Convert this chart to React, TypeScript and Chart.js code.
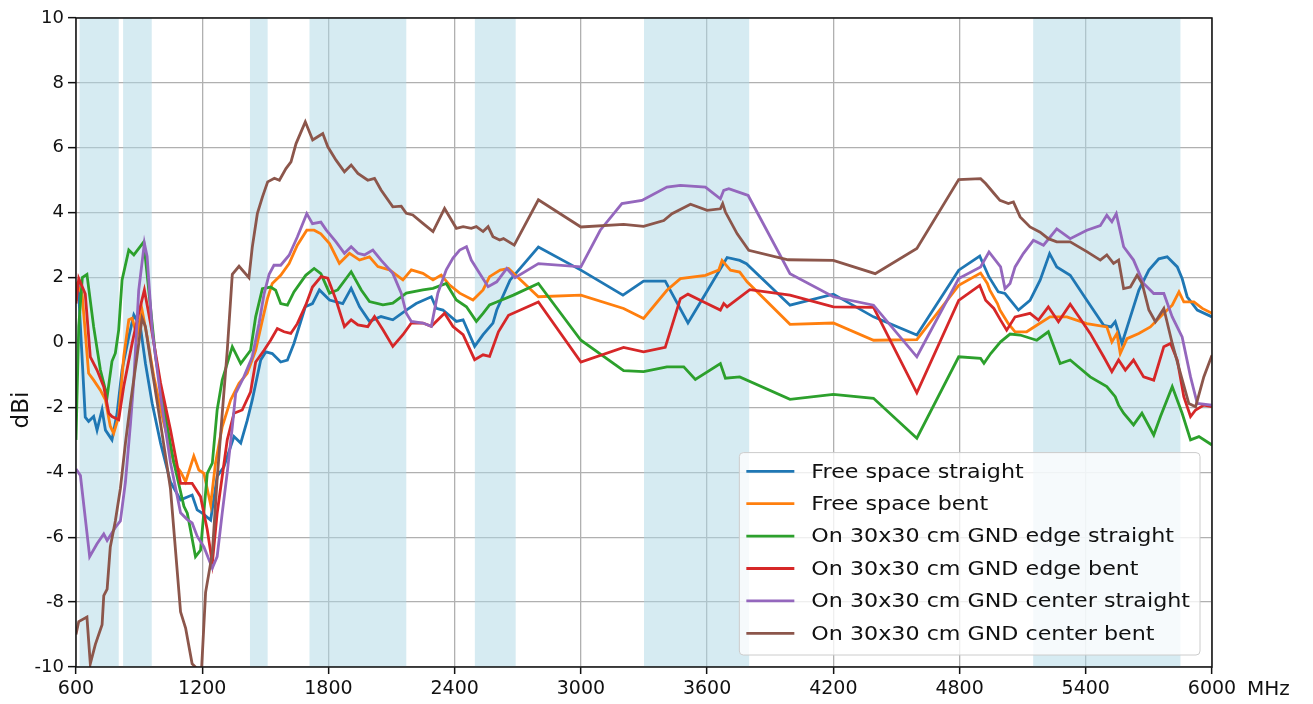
import React, { useEffect, useRef } from "react";
import { Chart, registerables } from "chart.js";
Chart.register(...registerables);

// ---------- DATA ----------
const seriesLabels = [
  "Free space straight",
  "Free space bent",
  "On 30x30 cm GND edge straight",
  "On 30x30 cm GND edge bent",
  "On 30x30 cm GND center straight",
  "On 30x30 cm GND center bent",
];
const seriesColors = ["#1f77b4", "#ff7f0e", "#2ca02c", "#d62728", "#9467bd", "#8c564b"];

const xTickValues = [600, 1200, 1800, 2400, 3000, 3600, 4200, 4800, 5400, 6000];
const yTickValues = [-10, -8, -6, -4, -2, 0, 2, 4, 6, 8, 10];

const bandStarts = [617, 824, 1427, 1710, 2496, 3300, 5150];
const bandEnds = [803, 960, 1511, 2170, 2690, 3800, 5850];

const fsStraightFreq = [600, 612, 644, 660, 684, 700, 724, 740, 771, 795, 819, 851, 875, 906, 930, 962, 1002, 1049, 1097, 1152, 1176, 1200, 1240, 1271, 1303, 1351, 1383, 1414, 1438, 1478, 1502, 1533, 1573, 1605, 1636, 1690, 1724, 1757, 1805, 1868, 1908, 1948, 1995, 2050, 2106, 2170, 2217, 2289, 2313, 2344, 2408, 2440, 2495, 2535, 2582, 2600, 2663, 2798, 3000, 3200, 3298, 3401, 3509, 3584, 3695, 3755, 3787, 3994, 4200, 4391, 4597, 4796, 4896, 4940, 4984, 5016, 5080, 5135, 5183, 5228, 5262, 5326, 5405, 5485, 5520, 5540, 5572, 5612, 5652, 5700, 5747, 5787, 5835, 5858, 5882, 5930, 6000];
const fsStraightGain = [1.3, 1.6, -2.3, -2.43, -2.28, -2.7, -2.07, -2.7, -3.0, -2.2, -0.84, 0.18, 0.85, 0.49, -0.64, -1.87, -3.1, -4.3, -4.85, -4.7, -5.16, -5.26, -5.47, -4.13, -3.83, -2.9, -3.1, -2.4, -1.77, -0.54, -0.29, -0.34, -0.6, -0.54, -0.03, 1.1, 1.2, 1.62, 1.31, 1.2, 1.67, 1.1, 0.65, 0.8, 0.7, 1.0, 1.2, 1.41, 1.05, 1.0, 0.65, 0.7, -0.12, 0.24, 0.6, 1.0, 1.92, 2.94, 2.23, 1.46, 1.89, 1.89, 0.6, 1.41, 2.62, 2.53, 2.43, 1.15, 1.49, 0.79, 0.23, 2.23, 2.66, 2.02, 1.56, 1.51, 1.0, 1.3, 1.92, 2.74, 2.33, 2.07, 1.3, 0.53, 0.48, 0.64, -0.03, 0.79, 1.61, 2.23, 2.58, 2.64, 2.33, 1.97, 1.41, 1.0, 0.79];

const fsBentFreq = [600, 605, 629, 660, 684, 716, 740, 763, 779, 803, 827, 851, 867, 890, 914, 938, 970, 1017, 1065, 1097, 1121, 1160, 1184, 1208, 1240, 1263, 1295, 1335, 1375, 1414, 1454, 1486, 1510, 1533, 1573, 1613, 1652, 1697, 1732, 1764, 1805, 1852, 1900, 1948, 1995, 2035, 2090, 2154, 2194, 2249, 2297, 2336, 2376, 2424, 2487, 2535, 2566, 2616, 2656, 2798, 3000, 3203, 3298, 3409, 3473, 3592, 3655, 3671, 3711, 3755, 3790, 3994, 4200, 4391, 4597, 4796, 4900, 4932, 4944, 4980, 4992, 5032, 5064, 5119, 5167, 5230, 5310, 5405, 5500, 5524, 5548, 5564, 5596, 5652, 5707, 5771, 5811, 5843, 5866, 5914, 5954, 6000];
const fsBentGain = [1.3, 1.76, 1.5, -0.95, -1.16, -1.47, -1.77, -2.58, -2.8, -2.28, -0.43, 0.7, 0.75, 0.18, 1.0, 0.18, -1.05, -2.48, -3.7, -3.98, -4.29, -3.5, -3.93, -4.03, -5.0, -3.72, -2.6, -1.77, -1.26, -0.95, -0.24, 0.69, 1.35, 1.82, 2.07, 2.43, 3.0, 3.46, 3.46, 3.35, 3.05, 2.44, 2.75, 2.54, 2.64, 2.34, 2.24, 1.93, 2.24, 2.13, 1.93, 2.08, 1.77, 1.52, 1.31, 1.62, 2.03, 2.23, 2.28, 1.41, 1.46, 1.05, 0.74, 1.61, 1.97, 2.07, 2.23, 2.53, 2.23, 2.17, 1.87, 0.56, 0.6, 0.07, 0.09, 1.76, 2.14, 1.82, 1.61, 1.2, 1.0, 0.58, 0.33, 0.33, 0.53, 0.79, 0.79, 0.58, 0.48, 0.02, 0.28, -0.34, 0.12, 0.28, 0.48, 0.9, 1.15, 1.56, 1.25, 1.25, 1.05, 0.9];

const edgeStraightFreq = [600, 613, 630, 652, 684, 716, 748, 771, 787, 803, 819, 851, 875, 922, 946, 978, 1017, 1065, 1113, 1129, 1144, 1168, 1192, 1224, 1248, 1271, 1295, 1343, 1383, 1430, 1454, 1486, 1525, 1549, 1573, 1605, 1636, 1692, 1732, 1764, 1805, 1844, 1908, 1956, 1995, 2059, 2106, 2170, 2249, 2297, 2360, 2408, 2456, 2503, 2535, 2566, 2600, 2679, 2798, 3000, 3203, 3298, 3409, 3489, 3544, 3663, 3687, 3755, 3994, 4200, 4391, 4597, 4796, 4900, 4916, 4948, 4995, 5040, 5088, 5167, 5222, 5278, 5326, 5421, 5500, 5540, 5556, 5580, 5627, 5667, 5723, 5755, 5811, 5858, 5898, 5938, 6000];
const edgeStraightGain = [-3.0, 0.5, 2.0, 2.1, 0.48, -0.85, -1.67, -0.58, -0.33, 0.39, 1.93, 2.85, 2.7, 3.1, 1.6, -0.43, -1.97, -3.7, -5.05, -5.26, -5.76, -6.6, -6.4, -4.03, -3.72, -2.08, -1.16, -0.13, -0.65, -0.24, 0.79, 1.66, 1.71, 1.61, 1.2, 1.15, 1.56, 2.07, 2.28, 2.12, 1.52, 1.62, 2.18, 1.62, 1.26, 1.16, 1.21, 1.52, 1.62, 1.67, 1.82, 1.31, 1.1, 0.65, 0.9, 1.16, 1.25, 1.46, 1.82, 0.07, -0.87, -0.9, -0.75, -0.75, -1.14, -0.65, -1.1, -1.06, -1.75, -1.6, -1.72, -2.95, -0.44, -0.49, -0.64, -0.34, 0.02, 0.26, 0.23, 0.07, 0.33, -0.65, -0.54, -1.06, -1.36, -1.67, -1.93, -2.18, -2.54, -2.18, -2.85, -2.28, -1.36, -2.18, -3.0, -2.9, -3.16];

const edgeBentFreq = [600, 613, 644, 668, 700, 732, 756, 771, 803, 827, 867, 898, 925, 954, 1002, 1049, 1097, 1152, 1192, 1224, 1248, 1271, 1319, 1351, 1390, 1430, 1454, 1494, 1525, 1557, 1589, 1621, 1652, 1692, 1724, 1765, 1797, 1836, 1876, 1908, 1940, 1987, 2019, 2059, 2106, 2154, 2194, 2249, 2289, 2352, 2392, 2440, 2495, 2535, 2566, 2608, 2656, 2798, 3000, 3203, 3298, 3401, 3473, 3509, 3584, 3663, 3679, 3695, 3803, 3994, 4200, 4391, 4597, 4796, 4896, 4924, 4963, 4995, 5024, 5064, 5135, 5175, 5222, 5270, 5326, 5373, 5421, 5485, 5524, 5556, 5588, 5627, 5675, 5723, 5771, 5803, 5835, 5866, 5898, 5922, 5961, 6000];
const edgeBentGain = [1.2, 1.97, 1.5, -0.44, -0.85, -1.36, -2.18, -2.28, -2.38, -1.35, -0.02, 0.9, 1.62, 0.6, -1.25, -2.69, -4.34, -4.34, -4.75, -5.77, -6.8, -5.26, -3.0, -2.18, -2.08, -1.52, -0.6, -0.24, 0.07, 0.43, 0.33, 0.28, 0.58, 1.15, 1.71, 2.03, 1.98, 1.31, 0.49, 0.7, 0.54, 0.49, 0.8, 0.39, -0.12, 0.24, 0.6, 0.6, 0.5, 0.9, 0.49, 0.24, -0.53, -0.38, -0.43, 0.33, 0.84, 1.25, -0.6, -0.15, -0.29, -0.15, 1.35, 1.49, 1.25, 1.0, 1.2, 1.1, 1.63, 1.46, 1.1, 1.08, -1.55, 1.3, 1.76, 1.3, 1.05, 0.69, 0.38, 0.79, 0.9, 0.69, 1.1, 0.64, 1.18, 0.74, 0.28, -0.44, -0.9, -0.54, -0.85, -0.54, -1.06, -1.16, -0.13, -0.03, -0.54, -1.67, -2.28, -2.08, -1.93, -1.98];

const centerStraightFreq = [600, 621, 665, 700, 732, 748, 787, 811, 835, 859, 875, 898, 925, 938, 962, 1002, 1049, 1097, 1128, 1152, 1176, 1208, 1248, 1271, 1295, 1319, 1343, 1359, 1398, 1438, 1470, 1494, 1518, 1541, 1573, 1613, 1652, 1697, 1724, 1764, 1789, 1836, 1876, 1908, 1940, 1971, 2011, 2050, 2106, 2146, 2170, 2194, 2249, 2289, 2320, 2360, 2392, 2424, 2456, 2479, 2519, 2559, 2600, 2648, 2687, 2798, 3000, 3092, 3195, 3290, 3409, 3473, 3592, 3663, 3679, 3703, 3774, 3795, 3994, 4200, 4391, 4597, 4796, 4900, 4940, 4995, 5016, 5040, 5064, 5103, 5151, 5199, 5262, 5326, 5405, 5469, 5500, 5524, 5545, 5580, 5627, 5675, 5723, 5771, 5811, 5858, 5898, 5930, 6000];
const centerStraightGain = [-3.9, -4.1, -6.6, -6.2, -5.9, -6.1, -5.7, -5.5, -4.3, -2.5, -1.15, 1.6, 3.06, 2.65, 0.4, -1.66, -3.7, -5.25, -5.45, -5.56, -5.97, -6.3, -6.95, -6.6, -5.26, -4.0, -2.6, -1.57, -1.06, -0.44, 0.58, 1.5, 2.1, 2.38, 2.38, 2.69, 3.25, 3.97, 3.66, 3.71, 3.47, 3.1, 2.75, 2.95, 2.75, 2.7, 2.85, 2.54, 2.13, 1.52, 0.9, 0.65, 0.6, 0.5, 1.52, 2.24, 2.6, 2.85, 2.95, 2.54, 2.13, 1.72, 1.87, 2.28, 2.0, 2.43, 2.33, 3.46, 4.28, 4.38, 4.79, 4.84, 4.79, 4.43, 4.69, 4.74, 4.58, 4.53, 2.12, 1.41, 1.15, -0.44, 1.97, 2.33, 2.79, 2.33, 1.66, 1.82, 2.33, 2.74, 3.15, 3.0, 3.5, 3.2, 3.46, 3.6, 3.92, 3.72, 3.97, 2.95, 2.54, 1.82, 1.51, 1.51, 0.79, 0.17, -1.06, -1.88, -1.93];

const centerBentFreq = [600, 613, 652, 668, 692, 724, 732, 748, 763, 787, 811, 835, 859, 890, 914, 930, 954, 1002, 1049, 1097, 1121, 1152, 1168, 1195, 1216, 1248, 1271, 1295, 1319, 1343, 1375, 1422, 1438, 1462, 1486, 1511, 1543, 1567, 1598, 1622, 1646, 1690, 1725, 1749, 1773, 1797, 1836, 1876, 1908, 1940, 1987, 2019, 2050, 2106, 2146, 2170, 2201, 2249, 2297, 2352, 2408, 2440, 2479, 2503, 2535, 2559, 2582, 2614, 2632, 2683, 2798, 3000, 3203, 3298, 3394, 3433, 3521, 3600, 3663, 3674, 3687, 3743, 3798, 3985, 4200, 4399, 4597, 4796, 4900, 4924, 4963, 4992, 5032, 5056, 5088, 5135, 5183, 5222, 5262, 5326, 5405, 5469, 5500, 5532, 5556, 5580, 5612, 5644, 5668, 5700, 5731, 5771, 5811, 5850, 5890, 5922, 5961, 6000];
const centerBentGain = [-9.0, -8.6, -8.46, -9.9, -9.3, -8.7, -7.8, -7.6, -6.3, -5.5, -4.5, -3.1, -1.87, -0.43, 0.75, 0.49, -0.53, -2.5, -4.5, -8.3, -8.8, -9.9, -10.0, -10.3, -7.7, -6.5, -4.2, -2.2, -0.24, 2.1, 2.35, 2.0, 2.94, 3.97, 4.48, 4.95, 5.06, 5.0, 5.36, 5.57, 6.13, 6.8, 6.24, 6.34, 6.44, 6.03, 5.62, 5.26, 5.47, 5.21, 5.0, 5.06, 4.7, 4.18, 4.2, 3.98, 3.93, 3.67, 3.42, 4.13, 3.52, 3.57, 3.52, 3.57, 3.42, 3.57, 3.26, 3.16, 3.2, 3.0, 4.4, 3.56, 3.64, 3.58, 3.76, 3.97, 4.26, 4.07, 4.12, 4.28, 4.02, 3.35, 2.84, 2.55, 2.53, 2.12, 2.9, 5.02, 5.05, 4.9, 4.6, 4.38, 4.28, 4.33, 3.87, 3.56, 3.4, 3.2, 3.1, 3.1, 2.8, 2.54, 2.7, 2.44, 2.54, 1.66, 1.71, 2.07, 1.82, 1.0, 0.64, 1.05, -0.03, -0.95, -1.88, -1.98, -1.06, -0.39];

const seriesFreqs = [fsStraightFreq, fsBentFreq, edgeStraightFreq, edgeBentFreq, centerStraightFreq, centerBentFreq];
const seriesGains = [fsStraightGain, fsBentGain, edgeStraightGain, edgeBentGain, centerStraightGain, centerBentGain];

const FONT = "'DejaVu Sans', sans-serif";

const bandsPlugin = {
  id: "bands",
  beforeDatasetsDraw(chart: any) {
    const { ctx, chartArea } = chart;
    const xs = chart.scales.x;
    ctx.save();
    ctx.beginPath();
    ctx.rect(chartArea.left, chartArea.top, chartArea.right - chartArea.left, chartArea.bottom - chartArea.top);
    ctx.clip();
    ctx.fillStyle = "rgba(173,216,230,0.5)";
    for (let i = 0; i < bandStarts.length; i++) {
      const a = xs.getPixelForValue(bandStarts[i]);
      const b = xs.getPixelForValue(bandEnds[i]);
      ctx.fillRect(a, chartArea.top, b - a, chartArea.bottom - chartArea.top);
    }
    ctx.restore();
  },
};

const decorPlugin = {
  id: "decor",
  afterDatasetsDraw(chart: any) {
    const { ctx, chartArea } = chart;
    const xs = chart.scales.x;
    ctx.save();
    // frame
    ctx.strokeStyle = "#111";
    ctx.lineWidth = 1.5;
    ctx.strokeRect(chartArea.left, chartArea.top, chartArea.right - chartArea.left, chartArea.bottom - chartArea.top);

    // legend
    const sx = 1.11;
    ctx.font = `20px ${FONT}`;
    let maxW = 0;
    seriesLabels.forEach((l) => (maxW = Math.max(maxW, ctx.measureText(l).width * sx)));
    const rowH = 32.4;
    const boxW = 72 + maxW + 10;
    const boxH = rowH * seriesLabels.length + 8;
    const bx = chartArea.right - 12 - boxW;
    const by = chartArea.bottom - 12 - boxH;
    ctx.beginPath();
    (ctx as any).roundRect(bx, by, boxW, boxH, 4);
    ctx.fillStyle = "rgba(255,255,255,0.8)";
    ctx.fill();
    ctx.strokeStyle = "#cccccc";
    ctx.lineWidth = 1;
    ctx.stroke();
    ctx.textBaseline = "middle";
    ctx.textAlign = "left";
    seriesLabels.forEach((l, i) => {
      const cy = by + 18.7 + i * rowH;
      ctx.strokeStyle = seriesColors[i];
      ctx.lineWidth = 2.8;
      ctx.beginPath();
      ctx.moveTo(bx + 7, cy);
      ctx.lineTo(bx + 55, cy);
      ctx.stroke();
      ctx.save();
      ctx.translate(bx + 72, cy + 1);
      ctx.scale(sx, 1);
      ctx.fillStyle = "#111";
      ctx.fillText(l, 0, 0);
      ctx.restore();
    });

    // y-axis title
    ctx.save();
    ctx.translate(22, 410);
    ctx.rotate(-Math.PI / 2);
    ctx.font = `23px ${FONT}`;
    ctx.textAlign = "center";
    ctx.textBaseline = "middle";
    ctx.fillStyle = "#111";
    ctx.fillText("dBi", 0, 0);
    ctx.restore();

    // unit after last x tick
    ctx.font = `20px ${FONT}`;
    const px = xs.getPixelForValue(6000);
    ctx.textAlign = "left";
    ctx.textBaseline = "middle";
    ctx.fillStyle = "#111";
    ctx.fillText("MHz", px + 35, chartArea.bottom + 23);
    ctx.restore();
  },
};

export default function App() {
  const ref = useRef<HTMLCanvasElement | null>(null);
  useEffect(() => {
    if (!ref.current) return;
    const datasets = seriesLabels.map((label, i) => ({
      label,
      data: seriesFreqs[i].map((f, j) => ({ x: f, y: seriesGains[i][j] })),
      borderColor: seriesColors[i],
      backgroundColor: seriesColors[i],
      borderWidth: 2.8,
      pointRadius: 0,
      tension: 0,
      fill: false,
      order: seriesLabels.length - 1 - i,
    }));
    const chart = new Chart(ref.current, {
      type: "line",
      data: { datasets },
      plugins: [bandsPlugin, decorPlugin],
      options: {
        animation: false,
        responsive: false,
        layout: { padding: { top: 18, right: 101, bottom: 0, left: 0 } },
        plugins: { legend: { display: false }, tooltip: { enabled: false } },
        scales: {
          x: {
            type: "linear",
            min: 600,
            max: 6000,
            afterBuildTicks: (s: any) => {
              s.ticks = xTickValues.map((v) => ({ value: v }));
            },
            afterFit: (s: any) => {
              s.height = 37;
              s.paddingLeft = 0;
              s.paddingRight = 0;
            },
            ticks: {
              font: { family: FONT, size: 19 },
              color: "#111",
              padding: 4,
              maxRotation: 0,
              autoSkip: false,
              callback: (v: any) => String(v),
            },
            grid: { color: "#b0b0b0", lineWidth: 1.3, tickColor: "#111", tickLength: 7, tickWidth: 1.5 },
            border: { display: false },
          },
          y: {
            type: "linear",
            min: -10,
            max: 10,
            afterBuildTicks: (s: any) => {
              s.ticks = yTickValues.map((v) => ({ value: v }));
            },
            afterFit: (s: any) => {
              s.width = 76;
              s.paddingTop = 0;
              s.paddingBottom = 0;
            },
            ticks: {
              font: { family: FONT, size: 18 },
              color: "#111",
              padding: 4,
              autoSkip: false,
              callback: (v: any) => String(v),
            },
            grid: { color: "#b0b0b0", lineWidth: 1.3, tickColor: "#111", tickLength: 8, tickWidth: 1.5 },
            border: { display: false },
          },
        },
      } as any,
    });
    return () => chart.destroy();
  }, []);
  return (
    <div style={{ position: "fixed", left: 0, top: 0, width: 1313, height: 704, background: "#fff" }}>
      <canvas ref={ref} width={1313} height={704} style={{ display: "block" }} />
    </div>
  );
}
